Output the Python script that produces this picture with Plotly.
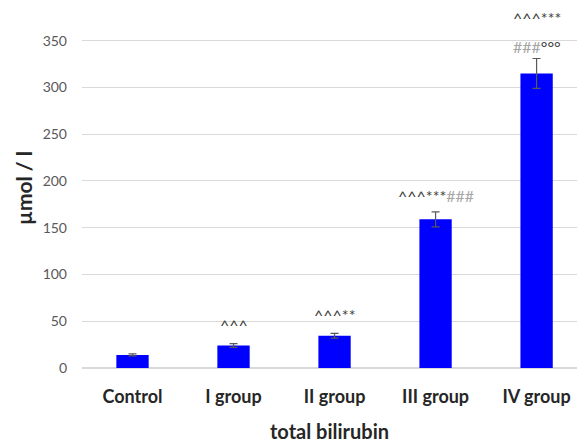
import plotly.graph_objects as go

categories = ["Control", "I group", "II group", "III group", "IV group"]
values = [14, 24, 34.5, 159, 315]
errors = [1, 2, 2.5, 8, 16]
tick_vals = [0, 50, 100, 150, 200, 250, 300, 350]
sig_main = ["", "^^^", "^^^**", "^^^***<span style='color:#a6a6a6'>###</span>", "^^^***"]
sig_second = ["", "", "", "", "<span style='color:#a6a6a6'>###</span>°°°"]
sig_main_y = [0, 47, 57, 184, 375]
sig_second_y = [0, 0, 0, 0, 344]

fig = go.Figure()
fig.add_trace(go.Bar(
    x=list(range(len(categories))), y=values,
    marker=dict(color="#0000ff", line=dict(width=0)),
    width=0.32,
    error_y=dict(type="data", array=errors, color="#595959", thickness=1.2, width=4),
))

for i in range(len(categories)):
    if sig_main[i]:
        fig.add_annotation(x=i, y=sig_main_y[i], xref="x", yref="y", text=sig_main[i],
                           showarrow=False, font=dict(size=16, color="#404040", family="Lato, sans-serif"))
    if sig_second[i]:
        fig.add_annotation(x=i, y=sig_second_y[i], xref="x", yref="y", text=sig_second[i],
                           showarrow=False, font=dict(size=16, color="#404040", family="Lato, sans-serif"))

fig.update_layout(
    width=577, height=443,
    margin=dict(l=82, r=0, t=8, b=75),
    plot_bgcolor="white", paper_bgcolor="white",
    showlegend=False,
    font=dict(family="Lato, sans-serif"),
    xaxis=dict(
        tickvals=list(range(len(categories))), ticktext=categories,
        range=[-0.5, 4.4], showgrid=False, zeroline=False,
        tickfont=dict(size=18, color="#262626", family="Lato, sans-serif", weight="bold"),
        title=dict(text="total bilirubin", standoff=20,
                   font=dict(size=20, color="#262626", family="Lato, sans-serif", weight="bold")),
        ticks="", ticklabelstandoff=16,
    ),
    yaxis=dict(
        range=[0, 385], tickvals=tick_vals,
        showgrid=True, gridcolor="#d9d9d9", gridwidth=1,
        zeroline=True, zerolinecolor="#d9d9d9",
        tickfont=dict(size=14, color="#595959", family="Lato, sans-serif"),
        ticks="", ticklabelstandoff=14,
        title=dict(text="µmol / l", standoff=4,
                   font=dict(size=21, color="#262626", family="Lato, sans-serif", weight="bold")),
    ),
)

fig.write_html("out.html")
